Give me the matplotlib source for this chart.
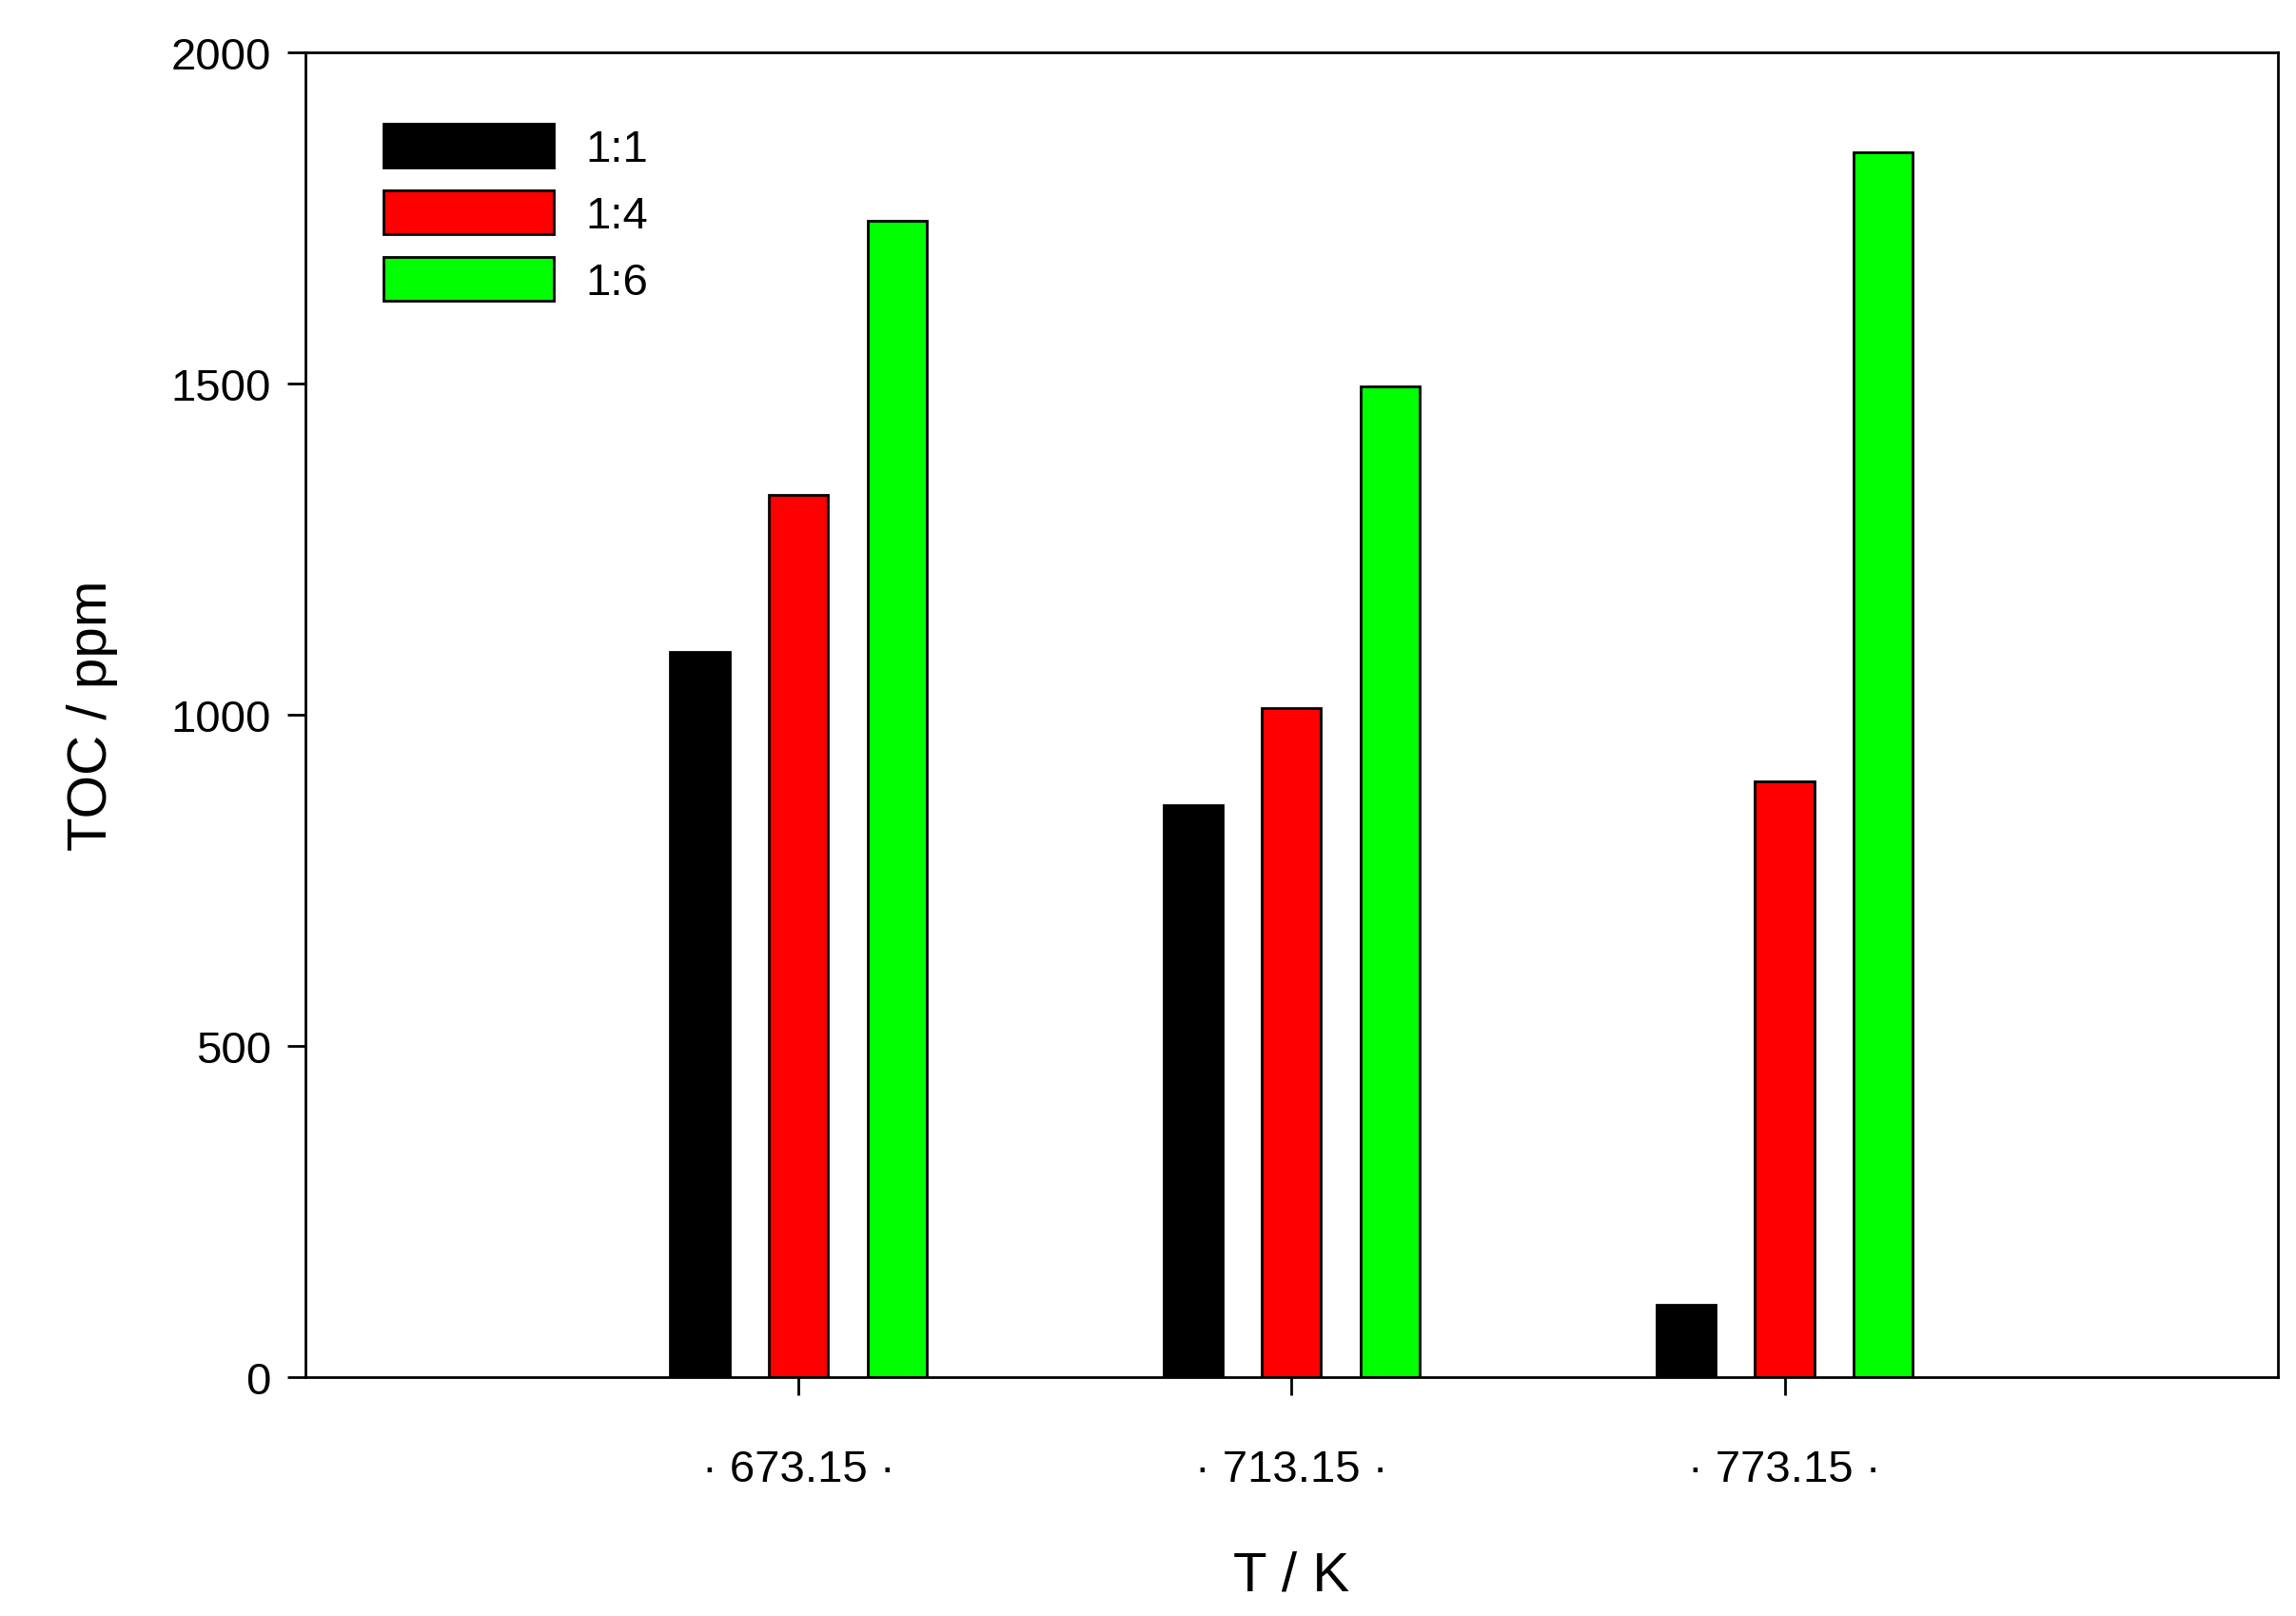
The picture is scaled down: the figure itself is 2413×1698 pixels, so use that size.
import numpy as np
import matplotlib.pyplot as plt

plt.rcParams['font.family'] = ['Liberation Sans', 'DejaVu Sans']

temps = ["· 673.15 ·", "· 713.15 ·", "· 773.15 ·"]
series = ["1:1", "1:4", "1:6"]
toc_11 = [1094, 863, 109]
toc_14 = [1332, 1010, 899]
toc_16 = [1745, 1496, 1849]
colors = ["#000000", "#ff0000", "#00ff00"]

fig = plt.figure(figsize=(24.13, 16.99), dpi=100)
ax = fig.add_axes([0.133, 0.148, 0.859, 0.819])

x = np.arange(1, len(temps) + 1)
offsets = [-0.2, 0.0, 0.2]
for vals, off, c, lab in zip([toc_11, toc_14, toc_16], offsets, colors, series):
    ax.bar(x + off, vals, width=0.12, color=c, edgecolor='black', linewidth=2, label=lab)

ax.set_xlim(0, 4)
ax.set_ylim(0, 2000)
ax.set_xticks(x)
ax.set_xticklabels(temps)
ax.set_yticks(np.arange(0, 2001, 500))
ax.tick_params(direction='out', length=14, width=2, labelsize=34, pad=12)
ax.tick_params(axis='x', pad=40)
for s in ax.spines.values():
    s.set_linewidth(2)

ax.set_xlabel("T / K", fontsize=42, labelpad=45)
ax.set_ylabel("TOC / ppm", fontsize=42, labelpad=40)

ax.legend(loc='upper left', fontsize=34, frameon=False, handlelength=3.8, handleheight=1.1,
          handletextpad=0.7, labelspacing=0.45, borderaxespad=0.9, bbox_to_anchor=(0.01, 0.99))

fig.savefig("out.png", dpi=100)
